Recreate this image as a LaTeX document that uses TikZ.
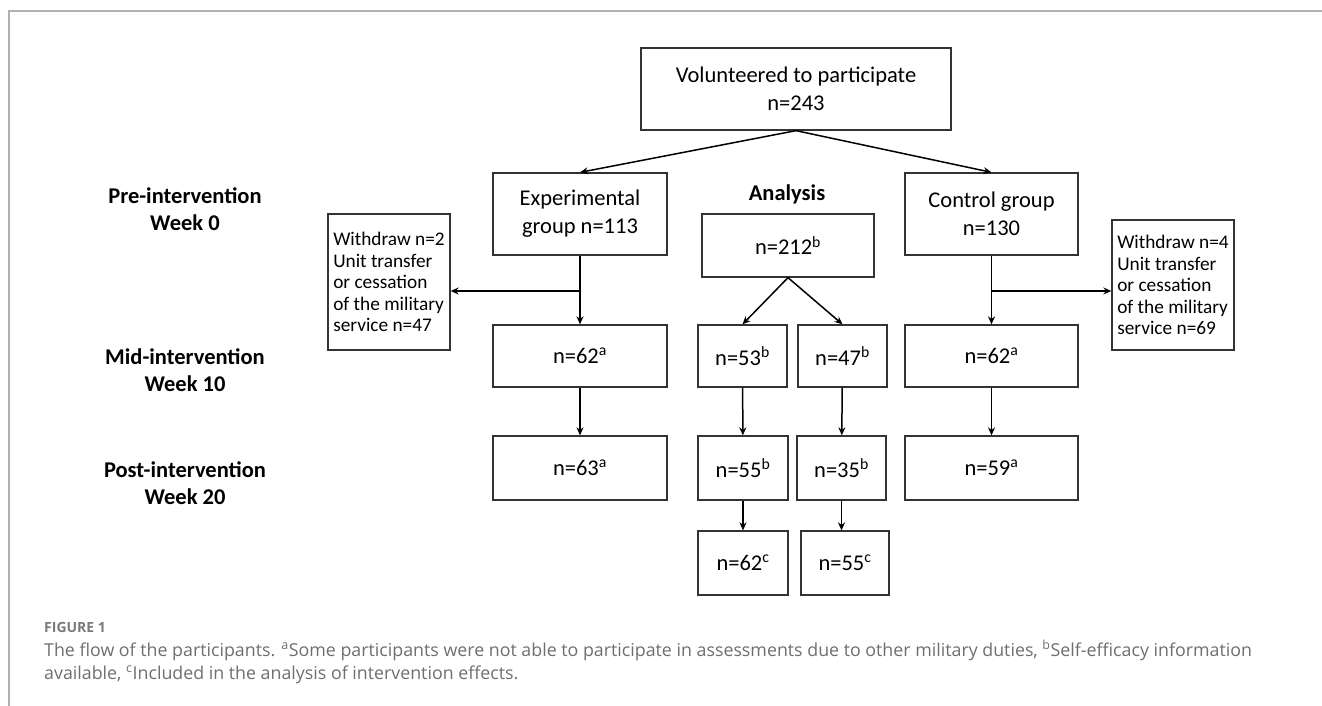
\documentclass[tikz,border=0pt]{standalone}
\usepackage{fontspec}
\setmainfont{Carlito}
\newfontfamily\capfont{Open Sans}
\usetikzlibrary{arrows.meta}
\definecolor{boxline}{HTML}{333333}
\definecolor{capgray}{HTML}{6E6E6E}
\definecolor{figgray}{HTML}{7A7A7A}
\definecolor{framegray}{HTML}{B0B0B0}
\tikzset{
  box/.style={draw=boxline, line width=1.3pt, align=center, inner sep=2pt,
    font=\fontsize{22.5}{28}\selectfont},
  wbox/.style={draw=boxline, line width=1.3pt, align=left, inner sep=2pt,
    font=\fontsize{19.3}{21.6}\selectfont},
  lbl/.style={align=center, font=\bfseries\fontsize{22.5}{27}\selectfont},
  arr/.style={line width=1.5pt, -{Stealth[length=8pt,width=7pt]}}
}
\begin{document}
\begin{tikzpicture}[x=1pt,y=-1pt]
\useasboundingbox (0,0) rectangle (1322,706);
\draw[framegray, line width=1.2pt] (9,706) -- (9,11) -- (1322,11);

% boxes
\node[box, minimum width=310pt, minimum height=82pt] (top) at (796,89) {Volunteered to participate\\n=243};
\node[box, minimum width=174pt, minimum height=82pt] (exp) at (580,214) {Experimental\\group n=113};
\node[box, minimum width=173pt, minimum height=82pt] (ctrl) at (991.5,214) {Control group\\n=130};
\node[wbox, minimum width=122pt, minimum height=136pt] (wl) at (389,282) {Withdraw n=2\\Unit transfer\\or cessation\\of the military\\service n=47};
\node[wbox, minimum width=122pt, minimum height=130pt] (wr) at (1173,285) {Withdraw n=4\\Unit transfer\\or cessation\\of the military\\service n=69};
\node[lbl] (anl) at (787,194) {Analysis};
\node[box, minimum width=172pt, minimum height=63pt] (a212) at (788,245.5) {n=212\textsuperscript{b}};

\node[box, minimum width=174pt, minimum height=62pt] (e62) at (580,356) {n=62\textsuperscript{a}};
\node[box, minimum width=89pt, minimum height=62pt] (n53) at (742.5,356) {n=53\textsuperscript{b}};
\node[box, minimum width=89pt, minimum height=62pt] (n47) at (842.5,356) {n=47\textsuperscript{b}};
\node[box, minimum width=173pt, minimum height=62pt] (c62) at (991.5,356) {n=62\textsuperscript{a}};

\node[box, minimum width=174pt, minimum height=64pt] (e63) at (580,468) {n=63\textsuperscript{a}};
\node[box, minimum width=90pt, minimum height=64pt] (n55) at (743,468) {n=55\textsuperscript{b}};
\node[box, minimum width=89pt, minimum height=64pt] (n35) at (841.5,468) {n=35\textsuperscript{b}};
\node[box, minimum width=173pt, minimum height=64pt] (c59) at (991.5,468) {n=59\textsuperscript{a}};

\node[box, minimum width=90pt, minimum height=64pt] (n62c) at (743,563) {n=62\textsuperscript{c}};
\node[box, minimum width=88pt, minimum height=64pt] (n55c) at (845,563) {n=55\textsuperscript{c}};

% stage labels
\node[lbl] (pre) at (185,209) {Pre-intervention\\Week 0};
\node[lbl] (mid) at (185,370) {Mid-intervention\\Week 10};
\node[lbl] (post) at (185,483) {Post-intervention\\Week 20};

% connectors
\draw[arr] (top.south) -- (exp.north);
\draw[arr] (top.south) -- (ctrl.north);
\draw[arr] (exp.south) -- (e62.north);
\coordinate (bl) at (exp.south |- 0,291);
\draw[arr] (bl) -- (bl -| wl.east);
\draw[arr] (ctrl.south) -- (c62.north);
\coordinate (br) at (ctrl.south |- 0,291);
\draw[arr] (br) -- (br -| wr.west);
\draw[arr] (a212.south) -- (n53.north);
\draw[arr] (a212.south) -- (n47.north);
\draw[arr] (e62) -- (e63);
\draw[arr] (c62) -- (c59);
\draw[arr] (n53) -- (n55);
\draw[arr] (n47) -- (n35);
\draw[arr] (n55) -- (n62c);
\draw[arr] (n35.south) -- (n35.south |- n55c.north);

% caption
\node[anchor=west, text=figgray, font=\capfont\bfseries\fontsize{14}{16}\selectfont, inner sep=0pt] (fig) at (44,627) {FIGURE 1};
\node[anchor=west, align=left, text=capgray, font=\capfont\fontsize{17.8}{23}\selectfont, inner sep=0pt] (cap) at (44,662)
{The flow of the participants. \textsuperscript{a}Some participants were not able to participate in assessments due to other military duties, \textsuperscript{b}Self-efficacy information\\available, \textsuperscript{c}Included in the analysis of intervention effects.};
\end{tikzpicture}
\end{document}
